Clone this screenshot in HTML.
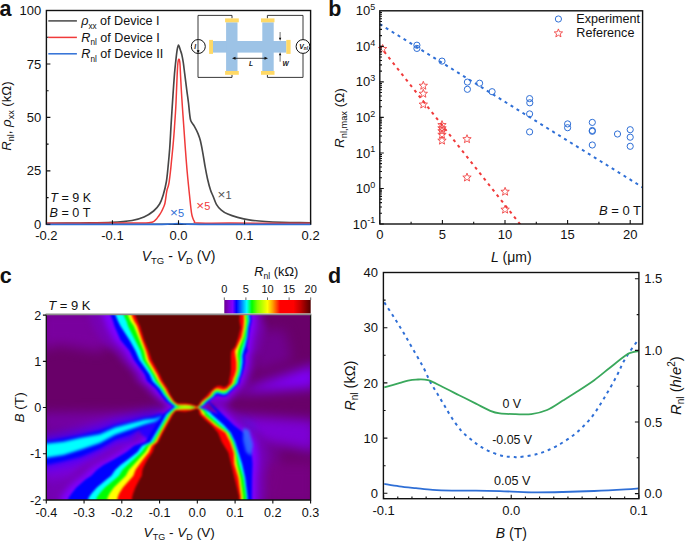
<!DOCTYPE html>
<html><head><meta charset="utf-8"><title>figure</title><style>
html,body{margin:0;padding:0;background:#fff;}
svg{display:block;font-family:"Liberation Sans",sans-serif;}
</style></head><body>
<svg width="685" height="542" viewBox="0 0 685 542" fill="#111">
<text x="-0.6" y="15.8" font-size="21.5" font-weight="bold">a</text>
<text x="328.3" y="15.6" font-size="21.5" font-weight="bold">b</text>
<text x="-0.3" y="283.3" font-size="21.5" font-weight="bold">c</text>
<text x="327.9" y="282.9" font-size="21.5" font-weight="bold">d</text>
<g>
<path d="M232 18.4 V15.4 H198 V77.4 H232 V74.8 M267.4 18.4 V15.4 H303 V77.4 H267.4 V74.8" fill="none" stroke="#222" stroke-width="0.9"/>
<rect x="213" y="41" width="73.4" height="11.6" fill="#9dc3e6"/>
<rect x="226.1" y="22.3" width="11.4" height="48.7" fill="#9dc3e6"/>
<rect x="262.3" y="22.3" width="11.4" height="48.7" fill="#9dc3e6"/>
<rect x="225.1" y="18.4" width="13.7" height="3.9" fill="#ffd966"/>
<rect x="225.1" y="71" width="13.7" height="3.8" fill="#ffd966"/>
<rect x="261" y="18.4" width="13.5" height="3.9" fill="#ffd966"/>
<rect x="261" y="71" width="13.5" height="3.8" fill="#ffd966"/>
<rect x="209.1" y="39.9" width="3.9" height="14" fill="#ffd966"/>
<rect x="286.3" y="39.9" width="4.3" height="14" fill="#ffd966"/>
<circle cx="198.3" cy="46.5" r="7" fill="none" stroke="#111" stroke-width="1"/>
<circle cx="303" cy="46.5" r="6.9" fill="#fff" stroke="#111" stroke-width="1"/>
<text x="194.3" y="48.6" font-size="6.5" font-style="italic" font-weight="bold">I</text>
<path d="M197.2 50.6 L198.2 52.4 L199.2 50.6 Z" fill="#000" stroke="#000" stroke-width="0.6"/>
<text x="299.3" y="49" font-size="6.8" font-style="italic" font-weight="bold">V<tspan font-size="4.6" dy="0.7">nl</tspan></text>
<path d="M234 58.3 H266" stroke="#111" stroke-width="0.8"/>
<path d="M232 58.3 L235.5 56.8 L235.5 59.8 Z M268 58.3 L264.5 56.8 L264.5 59.8 Z" fill="#111"/>
<text x="249" y="66.3" font-size="6.6" font-style="italic" font-weight="bold">L</text>
<path d="M280.1 32 V39 M280.1 54 V61.7" stroke="#333" stroke-width="0.7"/>
<path d="M280.1 40.8 L278.9 37.8 L281.3 37.8 Z M280.1 52.2 L278.9 55.2 L281.3 55.2 Z" fill="#111"/>
<text x="282.6" y="66.3" font-size="6.6" font-style="italic" font-weight="bold">W</text>
</g>
<rect x="46.4" y="10.5" width="264.2" height="213.8" fill="none" stroke="#111" stroke-width="1.4"/>
<path d="M46.5 223.4 C52.08 223.33 69.08 223.17 80 223 C90.92 222.83 103.33 222.82 112 222.4 C120.67 221.98 126.67 221.4 132 220.5 C137.33 219.6 140.4 218.58 144 217 C147.6 215.42 151 213.17 153.6 211 C156.2 208.83 158 206.67 159.6 204 C161.2 201.33 162.08 198.67 163.2 195 C164.32 191.33 165.5 186.58 166.3 182 C167.1 177.42 167.43 173.08 168 167.5 C168.57 161.92 169.18 155.67 169.7 148.5 C170.22 141.33 170.68 131.42 171.1 124.5 C171.52 117.58 171.83 112.7 172.2 107 C172.57 101.3 172.92 95.85 173.3 90.3 C173.68 84.75 174.12 78.3 174.5 73.7 C174.88 69.1 175.17 66.62 175.6 62.7 C176.03 58.78 176.62 53.15 177.1 50.2 C177.58 47.25 177.95 45 178.5 45 C179.05 45 179.85 48.6 180.4 50.2 C180.95 51.8 181.32 52.52 181.8 54.6 C182.28 56.68 182.82 59.52 183.3 62.7 C183.78 65.88 184.12 69.1 184.7 73.7 C185.28 78.3 186.17 85.42 186.8 90.3 C187.43 95.18 188.03 99.13 188.5 103 C188.97 106.87 189.22 110.53 189.6 113.5 C189.98 116.47 190 118.65 190.8 120.8 C191.6 122.95 193.2 124.27 194.4 126.4 C195.6 128.53 197 131.2 198 133.6 C199 136 199.6 137.6 200.4 140.8 C201.2 144 202 148.4 202.8 152.8 C203.6 157.2 204.4 162.8 205.2 167.2 C206 171.6 206.72 175.4 207.6 179.2 C208.48 183 209.58 187.17 210.5 190 C211.42 192.83 212.12 193.82 213.1 196.2 C214.08 198.58 215.03 201.98 216.4 204.3 C217.77 206.62 219.4 208.47 221.3 210.1 C223.2 211.73 225.08 212.88 227.8 214.1 C230.52 215.32 234.07 216.43 237.6 217.4 C241.13 218.37 244.37 219.22 249 219.9 C253.63 220.58 259.93 221.1 265.4 221.5 C270.87 221.9 276.35 222.12 281.8 222.3 C287.25 222.48 293.4 222.52 298.1 222.6 C302.8 222.68 308.02 222.77 310 222.8" fill="none" stroke="#474747" stroke-width="1.65" stroke-linejoin="round"/>
<path d="M46.5 223.2 C55.42 223.18 84.42 223.13 100 223.1 C115.58 223.07 131.67 223.08 140 223 C148.33 222.92 147.73 222.83 150 222.6 C152.27 222.37 152.52 222.2 153.6 221.6 C154.68 221 155.7 219.87 156.5 219 C157.3 218.13 157.65 217.48 158.4 216.4 C159.15 215.32 160.2 213.9 161 212.5 C161.8 211.1 162.53 209.58 163.2 208 C163.87 206.42 164.4 205.8 165 203 C165.6 200.2 166.25 194.03 166.8 191.2 C167.35 188.37 167.9 187.6 168.3 186 C168.7 184.4 168.85 183.93 169.2 181.6 C169.55 179.27 170 175.6 170.4 172 C170.8 168.4 171.2 164 171.6 160 C172 156 172.4 152.33 172.8 148 C173.2 143.67 173.68 138 174 134 C174.32 130 174.45 127.67 174.7 124 C174.95 120.33 175.28 115.5 175.5 112 C175.72 108.5 175.73 108.92 176 103 C176.27 97.08 176.8 83 177.1 76.5 C177.4 70 177.52 66.88 177.8 64 C178.08 61.12 178.45 59.37 178.8 59.2 C179.15 59.03 179.6 60.12 179.9 63 C180.2 65.88 180.33 71.5 180.6 76.5 C180.87 81.5 181.17 87.47 181.5 93 C181.83 98.53 182.25 104.53 182.6 109.7 C182.95 114.87 183.15 117.62 183.6 124 C184.05 130.38 184.7 140 185.3 148 C185.9 156 186.48 164 187.2 172 C187.92 180 188.88 189.2 189.6 196 C190.32 202.8 190.93 209.05 191.5 212.8 C192.07 216.55 192.52 217.1 193 218.5 C193.48 219.9 193.57 220.43 194.4 221.2 C195.23 221.97 192.07 222.78 198 223.1 C203.93 223.42 211.33 223.08 230 223.1 C248.67 223.12 296.67 223.18 310 223.2" fill="none" stroke="#f03a3a" stroke-width="1.5" stroke-linejoin="round"/>
<path d="M46.5 224.4 C63.75 224.38 129.42 224.37 150 224.3 C170.58 224.23 165.33 224.12 170 224 C174.67 223.88 175.33 223.6 178 223.6 C180.67 223.6 182.33 223.88 186 224 C189.67 224.12 179.25 224.23 200 224.3 C220.75 224.37 292.08 224.38 310.5 224.4" fill="none" stroke="#2f6fd6" stroke-width="1.7"/>
<text x="41.2" y="228.9" font-size="13" text-anchor="end" >0</text>
<text x="41.2" y="175.45" font-size="13" text-anchor="end" >25</text>
<text x="41.2" y="122" font-size="13" text-anchor="end" >50</text>
<text x="41.2" y="68.55" font-size="13" text-anchor="end" >75</text>
<text x="41.2" y="15.1" font-size="13" text-anchor="end" >100</text>
<text x="46.4" y="239.7" font-size="13" text-anchor="middle" >-0.2</text>
<text x="112.45" y="239.7" font-size="13" text-anchor="middle" >-0.1</text>
<text x="178.5" y="239.7" font-size="13" text-anchor="middle" >0.0</text>
<text x="244.55" y="239.7" font-size="13" text-anchor="middle" >0.1</text>
<text x="310.6" y="239.7" font-size="13" text-anchor="middle" >0.2</text>
<path d="M46.4 224.3 h4 M46.4 170.85 h4 M46.4 117.4 h4 M46.4 63.95 h4 M46.4 10.5 h4 M46.4 197.58 h2.2 M46.4 144.12 h2.2 M46.4 90.68 h2.2 M46.4 37.22 h2.2 M46.4 224.3 v-4 M112.45 224.3 v-4 M178.5 224.3 v-4 M244.55 224.3 v-4 M310.6 224.3 v-4" stroke="#111" stroke-width="1.1" fill="none"/>
<path d="M48.3 20.9 H76.9" stroke="#474747" stroke-width="1.5"/>
<path d="M48.3 37.4 H76.9" stroke="#f03a3a" stroke-width="1.5"/>
<path d="M48.3 53.8 H76.9" stroke="#2f6fd6" stroke-width="1.5"/>
<text x="81.2" y="25.3" font-size="12.6"><tspan font-style="italic">ρ</tspan><tspan font-size="8.2" dy="3.3">xx</tspan><tspan dy="-3.3"> of Device I</tspan></text>
<text x="81.3" y="41.8" font-size="12.6"><tspan font-style="italic">R</tspan><tspan font-size="8.2" dy="3.3">nl</tspan><tspan dy="-3.3"> of Device I</tspan></text>
<text x="81.3" y="58.2" font-size="12.6"><tspan font-style="italic">R</tspan><tspan font-size="8.2" dy="3.3">nl</tspan><tspan dy="-3.3"> of Device II</tspan></text>
<text x="50.3" y="201.7" font-size="12.6" text-anchor="start" ><tspan font-style="italic">T</tspan> = 9 K</text>
<text x="49.6" y="217.4" font-size="12.6" text-anchor="start" ><tspan font-style="italic">B</tspan> = 0 T</text>
<text x="217.6" y="198.9" font-size="11" fill="#555"><tspan font-size="13.5">×</tspan>1</text>
<text x="196.3" y="210.3" font-size="11" fill="#f03a3a"><tspan font-size="13.5">×</tspan>5</text>
<text x="170.0" y="216.6" font-size="11" fill="#2f6fd6"><tspan font-size="13.5">×</tspan>5</text>
<text x="178.6" y="261.2" font-size="14" text-anchor="middle"><tspan font-style="italic">V</tspan><tspan font-size="9.5" dy="3">TG</tspan><tspan dy="-3"> - </tspan><tspan font-style="italic">V</tspan><tspan font-size="9.5" dy="3">D</tspan><tspan dy="-3"> (V)</tspan></text>
<text transform="translate(11.3 116.1) rotate(-90)" font-size="13.2" text-anchor="middle"><tspan font-style="italic">R</tspan><tspan font-size="9" dy="3">nl</tspan><tspan dy="-3">, </tspan><tspan font-style="italic">ρ</tspan><tspan font-size="9" dy="3">xx</tspan><tspan dy="-3"> (kΩ)</tspan></text>
<clipPath id="clipb"><rect x="379.8" y="10.8" width="262.8" height="213.2"/></clipPath>
<g clip-path="url(#clipb)">
<path d="M379.8 24.1 L642.6 187.3" stroke="#2f6fd6" stroke-width="2" stroke-dasharray="3 4" fill="none"/>
<path d="M379.8 46.1 L525 230.5" stroke="#f03a3a" stroke-width="2" stroke-dasharray="3 4" stroke-dashoffset="0" fill="none"/>
</g>
<circle cx="416.9" cy="45.2" r="3.1" fill="none" stroke="#2f6fd6" stroke-width="1"/>
<circle cx="416.9" cy="48.4" r="3.1" fill="none" stroke="#2f6fd6" stroke-width="1"/>
<circle cx="442" cy="61.1" r="3.1" fill="none" stroke="#2f6fd6" stroke-width="1"/>
<circle cx="467.4" cy="82.1" r="3.1" fill="none" stroke="#2f6fd6" stroke-width="1"/>
<circle cx="467.4" cy="89.3" r="3.1" fill="none" stroke="#2f6fd6" stroke-width="1"/>
<circle cx="479.6" cy="83.2" r="3.1" fill="none" stroke="#2f6fd6" stroke-width="1"/>
<circle cx="492.1" cy="91.7" r="3.1" fill="none" stroke="#2f6fd6" stroke-width="1"/>
<circle cx="529.6" cy="98.6" r="3.1" fill="none" stroke="#2f6fd6" stroke-width="1"/>
<circle cx="529.8" cy="102.8" r="3.1" fill="none" stroke="#2f6fd6" stroke-width="1"/>
<circle cx="529.6" cy="113.9" r="3.1" fill="none" stroke="#2f6fd6" stroke-width="1"/>
<circle cx="529.6" cy="131.9" r="3.1" fill="none" stroke="#2f6fd6" stroke-width="1"/>
<circle cx="567.6" cy="123.9" r="3.1" fill="none" stroke="#2f6fd6" stroke-width="1"/>
<circle cx="567.6" cy="127.7" r="3.1" fill="none" stroke="#2f6fd6" stroke-width="1"/>
<circle cx="592.3" cy="122.4" r="3.1" fill="none" stroke="#2f6fd6" stroke-width="1"/>
<circle cx="592.3" cy="130.5" r="3.1" fill="none" stroke="#2f6fd6" stroke-width="1"/>
<circle cx="592.3" cy="131.3" r="3.1" fill="none" stroke="#2f6fd6" stroke-width="1"/>
<circle cx="592.3" cy="145" r="3.1" fill="none" stroke="#2f6fd6" stroke-width="1"/>
<circle cx="617.5" cy="134" r="3.1" fill="none" stroke="#2f6fd6" stroke-width="1"/>
<circle cx="630.2" cy="129.7" r="3.1" fill="none" stroke="#2f6fd6" stroke-width="1"/>
<circle cx="630.2" cy="137.2" r="3.1" fill="none" stroke="#2f6fd6" stroke-width="1"/>
<circle cx="630.2" cy="146.3" r="3.1" fill="none" stroke="#2f6fd6" stroke-width="1"/>
<polygon points="382.6,44.5 383.72,47.36 386.78,47.54 384.41,49.49 385.19,52.46 382.6,50.8 380.01,52.46 380.79,49.49 378.42,47.54 381.48,47.36" fill="none" stroke="#f03a3a" stroke-width="0.85" stroke-linejoin="miter"/>
<polygon points="423.3,81.3 424.42,84.16 427.48,84.34 425.11,86.29 425.89,89.26 423.3,87.6 420.71,89.26 421.49,86.29 419.12,84.34 422.18,84.16" fill="none" stroke="#f03a3a" stroke-width="0.85" stroke-linejoin="miter"/>
<polygon points="423.3,89.3 424.42,92.16 427.48,92.34 425.11,94.29 425.89,97.26 423.3,95.6 420.71,97.26 421.49,94.29 419.12,92.34 422.18,92.16" fill="none" stroke="#f03a3a" stroke-width="0.85" stroke-linejoin="miter"/>
<polygon points="423.3,100.1 424.42,102.96 427.48,103.14 425.11,105.09 425.89,108.06 423.3,106.4 420.71,108.06 421.49,105.09 419.12,103.14 422.18,102.96" fill="none" stroke="#f03a3a" stroke-width="0.85" stroke-linejoin="miter"/>
<polygon points="442,120.6 443.12,123.46 446.18,123.64 443.81,125.59 444.59,128.56 442,126.9 439.41,128.56 440.19,125.59 437.82,123.64 440.88,123.46" fill="none" stroke="#f03a3a" stroke-width="0.85" stroke-linejoin="miter"/>
<polygon points="442,123.8 443.12,126.66 446.18,126.84 443.81,128.79 444.59,131.76 442,130.1 439.41,131.76 440.19,128.79 437.82,126.84 440.88,126.66" fill="none" stroke="#f03a3a" stroke-width="0.85" stroke-linejoin="miter"/>
<polygon points="442,126.7 443.12,129.56 446.18,129.74 443.81,131.69 444.59,134.66 442,133 439.41,134.66 440.19,131.69 437.82,129.74 440.88,129.56" fill="none" stroke="#f03a3a" stroke-width="0.85" stroke-linejoin="miter"/>
<polygon points="442,130.3 443.12,133.16 446.18,133.34 443.81,135.29 444.59,138.26 442,136.6 439.41,138.26 440.19,135.29 437.82,133.34 440.88,133.16" fill="none" stroke="#f03a3a" stroke-width="0.85" stroke-linejoin="miter"/>
<polygon points="442,136.2 443.12,139.06 446.18,139.24 443.81,141.19 444.59,144.16 442,142.5 439.41,144.16 440.19,141.19 437.82,139.24 440.88,139.06" fill="none" stroke="#f03a3a" stroke-width="0.85" stroke-linejoin="miter"/>
<polygon points="467,134.7 468.12,137.56 471.18,137.74 468.81,139.69 469.59,142.66 467,141 464.41,142.66 465.19,139.69 462.82,137.74 465.88,137.56" fill="none" stroke="#f03a3a" stroke-width="0.85" stroke-linejoin="miter"/>
<polygon points="467,173.1 468.12,175.96 471.18,176.14 468.81,178.09 469.59,181.06 467,179.4 464.41,181.06 465.19,178.09 462.82,176.14 465.88,175.96" fill="none" stroke="#f03a3a" stroke-width="0.85" stroke-linejoin="miter"/>
<polygon points="505.1,187.3 506.22,190.16 509.28,190.34 506.91,192.29 507.69,195.26 505.1,193.6 502.51,195.26 503.29,192.29 500.92,190.34 503.98,190.16" fill="none" stroke="#f03a3a" stroke-width="0.85" stroke-linejoin="miter"/>
<polygon points="505.1,205.2 506.22,208.06 509.28,208.24 506.91,210.19 507.69,213.16 505.1,211.5 502.51,213.16 503.29,210.19 500.92,208.24 503.98,208.06" fill="none" stroke="#f03a3a" stroke-width="0.85" stroke-linejoin="miter"/>
<rect x="379.8" y="10.8" width="262.8" height="213.2" fill="none" stroke="#111" stroke-width="1.4"/>
<text x="379.8" y="238.8" font-size="13" text-anchor="middle" >0</text>
<text x="442.4" y="238.8" font-size="13" text-anchor="middle" >5</text>
<text x="505" y="238.8" font-size="13" text-anchor="middle" >10</text>
<text x="567.6" y="238.8" font-size="13" text-anchor="middle" >15</text>
<text x="630.2" y="238.8" font-size="13" text-anchor="middle" >20</text>
<text x="375.2" y="228.6" font-size="13" text-anchor="end" >10<tspan font-size="9" dy="-5.3">-1</tspan></text>
<text x="375.2" y="193.07" font-size="13" text-anchor="end" >10<tspan font-size="9" dy="-5.3">0</tspan></text>
<text x="375.2" y="157.53" font-size="13" text-anchor="end" >10<tspan font-size="9" dy="-5.3">1</tspan></text>
<text x="375.2" y="122" font-size="13" text-anchor="end" >10<tspan font-size="9" dy="-5.3">2</tspan></text>
<text x="375.2" y="86.47" font-size="13" text-anchor="end" >10<tspan font-size="9" dy="-5.3">3</tspan></text>
<text x="375.2" y="50.93" font-size="13" text-anchor="end" >10<tspan font-size="9" dy="-5.3">4</tspan></text>
<text x="375.2" y="15.4" font-size="13" text-anchor="end" >10<tspan font-size="9" dy="-5.3">5</tspan></text>
<path d="M379.8 224.0 v-4 M442.4 224.0 v-4 M505 224.0 v-4 M567.6 224.0 v-4 M630.2 224.0 v-4 M411.1 224.0 v-2.2 M473.7 224.0 v-2.2 M536.3 224.0 v-2.2 M598.9 224.0 v-2.2 M379.8 224 h4 M379.8 213.3 h2.2 M379.8 207.05 h2.2 M379.8 202.61 h2.2 M379.8 199.16 h2.2 M379.8 196.35 h2.2 M379.8 193.97 h2.2 M379.8 191.91 h2.2 M379.8 190.09 h2.2 M379.8 188.47 h4 M379.8 177.77 h2.2 M379.8 171.51 h2.2 M379.8 167.07 h2.2 M379.8 163.63 h2.2 M379.8 160.82 h2.2 M379.8 158.44 h2.2 M379.8 156.38 h2.2 M379.8 154.56 h2.2 M379.8 152.93 h4 M379.8 142.24 h2.2 M379.8 135.98 h2.2 M379.8 131.54 h2.2 M379.8 128.1 h2.2 M379.8 125.28 h2.2 M379.8 122.9 h2.2 M379.8 120.84 h2.2 M379.8 119.03 h2.2 M379.8 117.4 h4 M379.8 106.7 h2.2 M379.8 100.45 h2.2 M379.8 96.01 h2.2 M379.8 92.56 h2.2 M379.8 89.75 h2.2 M379.8 87.37 h2.2 M379.8 85.31 h2.2 M379.8 83.49 h2.2 M379.8 81.87 h4 M379.8 71.17 h2.2 M379.8 64.91 h2.2 M379.8 60.47 h2.2 M379.8 57.03 h2.2 M379.8 54.22 h2.2 M379.8 51.84 h2.2 M379.8 49.78 h2.2 M379.8 47.96 h2.2 M379.8 46.33 h4 M379.8 35.64 h2.2 M379.8 29.38 h2.2 M379.8 24.94 h2.2 M379.8 21.5 h2.2 M379.8 18.68 h2.2 M379.8 16.3 h2.2 M379.8 14.24 h2.2 M379.8 12.43 h2.2" stroke="#111" stroke-width="1.1" fill="none"/>
<circle cx="558.4" cy="19" r="3.1" fill="none" stroke="#2f6fd6" stroke-width="1"/>
<polygon points="558.4,28.9 559.52,31.76 562.58,31.94 560.21,33.89 560.99,36.86 558.4,35.2 555.81,36.86 556.59,33.89 554.22,31.94 557.28,31.76" fill="none" stroke="#f03a3a" stroke-width="0.85" stroke-linejoin="miter"/>
<text x="576.3" y="23.1" font-size="12.6">Experiment</text>
<text x="576.3" y="37.3" font-size="12.6">Reference</text>
<text x="599" y="214.8" font-size="13" text-anchor="start" ><tspan font-style="italic">B</tspan> = 0 T</text>
<text x="511.3" y="262.3" font-size="14" text-anchor="middle"><tspan font-style="italic">L</tspan> (μm)</text>
<text transform="translate(344.3 118.1) rotate(-90)" font-size="13.5" text-anchor="middle"><tspan font-style="italic">R</tspan><tspan font-size="9.2" dy="2.6">nl,max</tspan><tspan dy="-2.6"> (Ω)</tspan></text>
<defs><clipPath id="clipc"><rect x="46.3" y="315.1" width="264.3" height="184.9"/></clipPath>
<filter id="bl1" color-interpolation-filters="sRGB" x="-10%" y="-10%" width="120%" height="120%"><feGaussianBlur stdDeviation="0.85"/></filter>
<filter id="bl15" color-interpolation-filters="sRGB" x="-10%" y="-10%" width="120%" height="120%"><feGaussianBlur stdDeviation="1.1"/></filter>
<filter id="bl3" color-interpolation-filters="sRGB" x="-10%" y="-10%" width="120%" height="120%"><feGaussianBlur stdDeviation="3"/></filter>
<filter id="bl6" color-interpolation-filters="sRGB" x="-20%" y="-20%" width="140%" height="140%"><feGaussianBlur stdDeviation="6"/></filter>
</defs>
<g clip-path="url(#clipc)">
<rect x="41.3" y="310.1" width="274.3" height="194.9" fill="#690069"/>
<g filter="url(#bl6)">

<path d="M40,310 L118,310 L122,330 L100,352 L60,345 L40,350Z" fill="#7c00a8" fill-opacity="0.85"/>
<path d="M95,310 L118,310 L128,345 L112,345Z" fill="#7a00f0" fill-opacity="0.7"/>
<path d="M40,413 L150,411 L150,422 L40,430Z" fill="#7800b8" fill-opacity="0.8"/>
<path d="M40,455 L150,430 L140,470 L110,505 L40,505Z" fill="#7c00e0" fill-opacity="0.9"/>
<path d="M40,480 L70,480 L70,505 L40,505Z" fill="#7000a0" fill-opacity="0.6"/>
<path d="M228,394 L316,364 L316,388 Z" fill="#8000ff" fill-opacity="0.95"/>
<path d="M250,330 L285,330 L292,360 L255,372Z" fill="#7400a0" fill-opacity="0.7"/>
<path d="M225,414 L316,420 L316,452 L250,440Z" fill="#8000e8" fill-opacity="0.85"/>
<path d="M250,445 L280,450 L270,500 L250,500Z" fill="#7800c0" fill-opacity="0.6"/>
<path d="M262,462 L316,462 L316,506 L262,506Z" fill="#780084" fill-opacity="0.9"/>

<path d="M38,435.5 47.8,434.9 63.5,432.3 81,429.1 100,424.6 115,418.9 130,415.6 145,411.4 155,410.1 163,407.3 163,423.7 155,428.9 145,432.2 130,440.4 115,445.6 100,454.2 81,462.4 63.5,467 47.8,470.6 38,471.5Z" fill="#8000ff" fill-opacity="0.9"/><path d="M38,439 47.8,438.4 63.5,435.8 81,432.6 100,428.1 115,422.4 130,419.1 145,414.9 155,413.6 163,410.8 163,420.2 155,425.4 145,428.7 130,436.9 115,442.1 100,450.7 81,458.9 63.5,463.5 47.8,467.1 38,468Z" fill="#3000ff" fill-opacity="0.9"/><path d="M120,440 L150,428 L160,425 L158,445 L140,452Z" fill="#5000ff" fill-opacity="0.8"/><path d="M236,420 L250,425 L256,450 L252,470 L244,470Z" fill="#2030ff" fill-opacity="0.8"/>
</g>
<g filter="url(#bl3)">
<path d="M88.3,305 88.5,315 91,321 92.5,326 101.5,340 113.6,350.9 121,360 133.7,374.4 136,381 145.9,388.8 150.6,395 159,401.6 177.5,412.9 186,413 190.5,413 194.5,410.9 197,409.9 207.3,405 211,402.1 216,398.9 224,396.3 226.4,393.1 211.5,407.2 214.7,404.2 217.3,403.3 220.6,404 223.1,405.5 226.4,406.1 249.3,383.4 250.5,378.2 252,375 253.7,369.2 255.1,362 255,355.5 259.5,351 259.9,346.3 262.6,337.1 266,327.8 263.6,321 263.1,316.8 263.1,305Z" fill="#7600b4" fill-opacity="0.85"/>
<path d="M48.4,510 48.4,498 51.6,493.4 56.4,487.5 65.5,479.5 71.3,475.8 76.7,470 83.5,465 94,459.5 106.5,452 118.1,445.8 129.4,441.9 137.9,432.7 143.4,423.5 153,414.2 175.5,401.2 178,401.6 185,401.4 190.5,401.7 194.5,403.8 197,405 208.9,409.6 223.3,414.2 204.2,383.7 248.9,425.3 260.6,432.7 266,441.9 268.5,452.8 267.5,463.9 265.1,477.7 264.9,496.2 265.1,510Z" fill="#7600b4" fill-opacity="0.85"/>
<path d="M102.3,305 102.5,315 105,321 106.5,326 113.5,340 123.6,350.9 129,360 140.7,374.4 143,381 151.9,388.8 156.6,395 163,401.6 177.5,411.4 186,411.5 190.5,411.5 194.5,409.9 197,409.4 206.3,405 209.5,402.1 214,398.9 219,396.3 221.4,393.1 211.5,402.2 214.7,399.2 217.3,398.3 220.6,399 223.1,399.5 226.4,400.1 243.3,383.4 244.5,378.2 246,375 247.7,369.2 249.1,362 249,355.5 251.5,351 251.9,346.3 253.6,337.1 256,327.8 256.6,321 256.1,316.8 256.1,305Z" fill="#8000ff" fill-opacity="1"/>
<path d="M60.4,510 60.4,498 63.6,493.4 68.4,487.5 77.5,479.5 83.3,475.8 88.7,470 95.5,465 106,459.5 118.5,452 128.1,445.8 139.4,441.9 145.9,432.7 151.4,423.5 159,414.2 175.5,403.2 178,403.1 185,402.9 190.5,403.2 194.5,404.8 197,405.5 207.9,409.6 220.3,414.2 204.2,391.7 239.9,425.3 250.6,432.7 256,441.9 258.5,452.8 258.5,463.9 257.1,477.7 256.9,496.2 257.1,510Z" fill="#8000ff" fill-opacity="1"/>
</g>
<g filter="url(#bl1)">
<g filter="url(#bl15)"><path d="M136,421 L160,413 L168,420 L162,437 L150,441 L140,433Z" fill="#2800ff"/><path d="M38,441.5 47.8,440.9 63.5,438.3 81,435.1 100,430.6 115,424.9 130,421.6 145,417.4 155,416.1 163,413.3 163,417.7 155,422.9 145,426.2 130,434.4 115,439.6 100,448.2 81,456.4 63.5,461 47.8,464.6 38,465.5Z" fill="#0000ff"/><path d="M38,444 47.8,443.5 63.5,441.8 81,437.8 100,434.2 115,427.5 130,423.6 145,419.8 155,418.8 163,416.1 163,416.9 155,421.6 145,424.2 130,429.6 115,434.8 100,443 81,449.4 63.5,455 47.8,457.6 38,458.4Z" fill="#00ffff"/></g>
<path d="M110.3,305 110.5,315 113,321 114.5,326 120.5,340 129.6,350.9 134,360 144.7,374.4 147,381 155.9,388.8 160.6,395 166,401.6 177.5,409.9 186,410 190.5,410 194.5,408.9 197,408.9 205.3,405 208,402.1 212,398.9 216,396.3 218.4,393.1 211.5,399.2 214.7,396.2 217.3,395.3 220.6,396 223.1,396.5 226.4,396.1 239.3,383.4 240.5,378.2 242,375 243.7,369.2 245.1,362 245,355.5 247.5,351 246.9,346.3 248.6,337.1 250,327.8 251.6,321 251.1,316.8 251.1,305Z" fill="#0000ff"/>
<path d="M68.4,510 68.4,498 71.6,493.4 76.4,487.5 85.5,479.5 91.3,475.8 96.7,470 103.5,465 114,459.5 126.5,452 134.1,445.8 145.4,441.9 150.9,432.7 156.4,423.5 163,414.2 175.5,404.7 178,404.6 185,404.4 190.5,404.7 194.5,405.8 197,406 206.9,409.6 218.3,414.2 204.2,396.7 233.9,425.3 243.6,432.7 249,441.9 251.5,452.8 252.5,463.9 252.1,477.7 251.9,496.2 252.1,510Z" fill="#0000ff"/>
<path d="M115.3,305 115.5,315 118,321 120.5,326 129.5,340 135.6,350.9 139.5,360 149.7,374.4 152.5,381 159.9,388.8 163.8,395 169,401.6 177.5,408.4 186,408.5 190.5,408.5 194.5,407.9 197,408.4 203.7,405 206.2,402.1 210,398.9 213.8,396.3 216.2,393.1 211.5,397 214.7,394 217.3,393.1 220.6,393.8 223.1,394.5 226.4,394.1 237.4,383.4 238.7,378.2 240.1,375 241.5,369.2 242.5,362 242.3,355.5 243.5,351 245.1,346.3 247.2,337.1 248.1,327.8 249.6,321 249.3,316.8 249.3,305Z" fill="#00ffff"/>
<path d="M88.4,510 88.4,498 91.6,493.4 96.9,487.5 106.5,479.5 111.3,475.8 115.2,470 120.5,465 128,459.5 137.5,452 142.1,445.8 150.4,441.9 155.9,432.7 161.4,423.5 166.5,414.2 175.5,406.2 178,406.1 185,405.9 190.5,406.2 194.5,406.8 197,406.5 204.7,409.6 212.3,414.2 204.2,407.7 223.9,425.3 230.6,432.7 235,441.9 238.5,452.8 242,463.9 245.1,477.7 247.4,496.2 247.6,510Z" fill="#00ffff"/>
<path d="M123.3,305 123.5,315 126.5,321 128,326 135,340 140.6,350.9 143,360 152.5,374.4 155.5,381 161.7,388.8 165.6,395 170.7,401.6 177.5,407.1 186,407.2 190.5,407.2 194.5,407.4 197,408.1 202.4,405 204.7,402.1 208.5,398.9 212.3,396.3 214.7,393.1 211.5,395.5 214.7,392.5 217.3,391.6 220.6,392.3 223.1,393 226.4,392.5 235.7,383.4 237,378.2 238.3,375 239.7,369.2 240.3,362 240.5,355.5 241.3,351 242.8,346.3 245.8,337.1 246.8,327.8 248.1,321 247.4,316.8 247.4,305Z" fill="#00ff00"/>
<path d="M96.4,510 96.4,498 99.6,493.4 104.9,487.5 114.5,479.5 118.8,475.8 122.4,470 127.5,465 133.5,459.5 141.5,452 146.1,445.8 152.9,441.9 158,432.7 163.2,423.5 168.7,414.2 175.5,407.7 178,407.4 185,407.2 190.5,407.5 194.5,407.3 197,406.8 203.1,409.6 209.7,414.2 204.2,410.9 220.1,425.3 229.1,432.7 233.4,441.9 236.7,452.8 239.3,463.9 243.4,477.7 246,496.2 246.2,510Z" fill="#00ff00"/>
<path d="M127.8,305 128,315 130.5,321 134,326 139.5,340 144,350.9 146,360 154.7,374.4 158,381 163.5,388.8 167.2,395 171.9,401.6 177.5,405.8 186,405.9 190.5,406.2 194.5,407 197,407.8 201.2,405 203.3,402.1 207,398.9 210.7,396.3 213.1,393.1 211.5,393.9 214.7,390.9 217.3,390 220.6,390.7 223.1,391.4 226.4,390.8 233.9,383.4 235.4,378.2 236.8,375 238.1,369.2 238.3,362 237.5,355.5 238,351 239.7,346.3 243.5,337.1 245.4,327.8 246.1,321 245.6,316.8 245.6,305Z" fill="#ffff00"/>
<path d="M107.4,510 107.4,498 109.6,493.4 113.9,487.5 122,479.5 125.8,475.8 128.9,470 133.5,465 138.5,459.5 145.5,452 149.1,445.8 154.7,441.9 159.8,432.7 164.9,423.5 170.3,414.2 175.5,408.9 178,408.6 185,408.4 190.5,408.5 194.5,407.7 197,407.1 201.5,409.6 205.2,414.2 204.2,414.5 217,425.3 227.5,432.7 231.9,441.9 235.3,452.8 236.7,463.9 240.3,477.7 242.8,496.2 243,510Z" fill="#ffff00"/>
<path d="M131.3,305 131.5,315 134,321 137,326 141.8,340 146,350.9 148.5,360 156.9,374.4 160,381 165.3,388.8 168.7,395 173.2,401.6 177.5,404.7 186,404.8 190.5,405.2 194.5,406.5 197,407.5 200,405 201.9,402.1 205.6,398.9 209.3,396.3 211.7,393.1 211.5,392.5 214.7,389.4 217.3,388.5 220.6,389.2 223.1,389.9 226.4,389.2 232.2,383.4 233.6,378.2 235,375 236.5,369.2 236.5,362 235.5,355.5 235,351 237.4,346.3 241.7,337.1 243.5,327.8 244.1,321 244,316.8 244,305Z" fill="#ff0000"/>
<path d="M117.4,510 117.4,498 119.1,493.4 122.9,487.5 130,479.5 133.3,475.8 135.4,470 139,465 143,459.5 149,452 151.6,445.8 156.5,441.9 161.1,432.7 166.2,423.5 171.5,414.2 175.5,410 178,409.7 185,409.5 190.5,409.5 194.5,408.2 197,407.4 200.1,409.6 202.2,414.2 204.2,415.7 214.7,425.3 225.6,432.7 230.3,441.9 233.9,452.8 234.4,463.9 238.5,477.7 240.9,496.2 241.1,510Z" fill="#ff0000"/>
<path d="M134.8,305 135,315 137.5,321 139.8,326 144,340 148.5,350.9 151.5,360 159.5,374.4 162.5,381 167.5,388.8 170.3,395 174.5,401.6 177.5,403.6 186,403.6 190.5,403.9 194.5,405.3 197,406.3 198.8,405 200.5,402.1 203.1,398.9 206.3,396.3 208.9,393.1 211.5,390.5 214.7,387.6 217.3,386 220.6,385.7 223.1,387.3 226.4,386.6 229,383.4 229.6,378.2 230.5,375 231,369.2 231,362 231,355.5 231.5,351 235.5,346.3 238.5,337.1 240.8,327.8 239.6,321 239.8,316.8 239.8,305Z" fill="#640505"/>
<path d="M131.9,510 131.9,498 133.1,493.4 135.4,487.5 139.5,479.5 141.8,475.8 142.4,470 144.5,465 147.5,459.5 152.5,452 154.6,445.8 158.3,441.9 162.9,432.7 168,423.5 173.1,414.2 175.5,411.2 178,411 185,411.8 190.5,410.8 194.5,409.4 197,408.6 198.8,409.6 199.6,414.2 204.2,418.9 211.6,425.3 218.1,432.7 221.8,441.9 228.5,452.8 231.2,463.9 234.5,477.7 239.1,496.2 239.3,510Z" fill="#640505"/>
<ellipse cx="185" cy="407.4" rx="6.5" ry="1.0" fill="#d0ff00"/>
<g filter="url(#bl15)"><path d="M243,428 L249,430 L253,445 L251,456 L246,452 L243,440Z" fill="#3070ff" fill-opacity="0.9"/></g>
</g>
</g>
<path d="M46.3 314.5 V500.0 H310.6 V314.5" fill="none" stroke="#111" stroke-width="1.3"/>
<path d="M45.65 314.3 H311.25" stroke="#8c8c8c" stroke-width="1.7"/>
<text x="46.3" y="516.8" font-size="12.6" text-anchor="middle" >-0.4</text>
<text x="84.06" y="516.8" font-size="12.6" text-anchor="middle" >-0.3</text>
<text x="121.81" y="516.8" font-size="12.6" text-anchor="middle" >-0.2</text>
<text x="159.57" y="516.8" font-size="12.6" text-anchor="middle" >-0.1</text>
<text x="197.33" y="516.8" font-size="12.6" text-anchor="middle" >0.0</text>
<text x="235.09" y="516.8" font-size="12.6" text-anchor="middle" >0.1</text>
<text x="272.84" y="516.8" font-size="12.6" text-anchor="middle" >0.2</text>
<text x="310.6" y="516.8" font-size="12.6" text-anchor="middle" >0.3</text>
<text x="41.3" y="504.5" font-size="12.6" text-anchor="end" >-2</text>
<text x="41.3" y="458.27" font-size="12.6" text-anchor="end" >-1</text>
<text x="41.3" y="412.05" font-size="12.6" text-anchor="end" >0</text>
<text x="41.3" y="365.83" font-size="12.6" text-anchor="end" >1</text>
<text x="41.3" y="319.6" font-size="12.6" text-anchor="end" >2</text>
<path d="M46.3 500.0 v3.6 M84.06 500.0 v3.6 M121.81 500.0 v3.6 M159.57 500.0 v3.6 M197.33 500.0 v3.6 M235.09 500.0 v3.6 M272.84 500.0 v3.6 M310.6 500.0 v3.6 M46.3 500 h-3.4 M46.3 453.77 h-3.4 M46.3 407.55 h-3.4 M46.3 361.33 h-3.4 M46.3 315.1 h-3.4" stroke="#111" stroke-width="1.1" fill="none"/>
<text x="48.2" y="310.2" font-size="13" text-anchor="start" ><tspan font-style="italic">T</tspan> = 9 K</text>
<text x="179.2" y="537.2" font-size="13.6" text-anchor="middle"><tspan font-style="italic">V</tspan><tspan font-size="9" dy="3">TG</tspan><tspan dy="-3"> - </tspan><tspan font-style="italic">V</tspan><tspan font-size="9" dy="3">D</tspan><tspan dy="-3"> (V)</tspan></text>
<text transform="translate(24.2 407.4) rotate(-90)" font-size="13.6" text-anchor="middle"><tspan font-style="italic">B</tspan> (T)</text>
<linearGradient id="cbg" x1="0" x2="1" y1="0" y2="0"><stop offset="0" stop-color="#6a0090"/><stop offset="0.05" stop-color="#8000d0"/><stop offset="0.097" stop-color="#8000ff"/><stop offset="0.14" stop-color="#0000ff"/><stop offset="0.214" stop-color="#00a0ff"/><stop offset="0.26" stop-color="#00ffff"/><stop offset="0.32" stop-color="#00ff00"/><stop offset="0.385" stop-color="#80ff00"/><stop offset="0.5" stop-color="#ffff00"/><stop offset="0.56" stop-color="#ffa000"/><stop offset="0.645" stop-color="#ff0000"/><stop offset="0.8" stop-color="#ff0000"/><stop offset="0.885" stop-color="#c00000"/><stop offset="0.95" stop-color="#800000"/><stop offset="1" stop-color="#500000"/></linearGradient>
<rect x="224.3" y="300" width="86.4" height="13.3" fill="url(#cbg)"/>
<text x="224.3" y="292.5" font-size="11" text-anchor="middle">0</text>
<text x="245.9" y="292.5" font-size="11" text-anchor="middle">5</text>
<text x="267.5" y="292.5" font-size="11" text-anchor="middle">10</text>
<text x="289.1" y="292.5" font-size="11" text-anchor="middle">15</text>
<text x="310.7" y="292.5" font-size="11" text-anchor="middle">20</text>
<path d="M224.3 300 v-2.6 M245.9 300 v-2.6 M267.5 300 v-2.6 M289.1 300 v-2.6 M310.7 300 v-2.6" stroke="#555" stroke-width="0.9"/>
<text x="254.3" y="275.9" font-size="12.8"><tspan font-style="italic">R</tspan><tspan font-size="8.6" dy="3">nl</tspan><tspan dy="-3"> (kΩ)</tspan></text>
<clipPath id="clipd"><rect x="383.4" y="272.5" width="255.5" height="226.2"/></clipPath>
<g clip-path="url(#clipd)">
<path d="M384.3 302.4 C385.98 305 391.12 312.82 394.4 318 C397.68 323.18 400.8 328.12 404 333.5 C407.2 338.88 410.4 344.7 413.6 350.3 C416.8 355.9 420.42 361.82 423.2 367.1 C425.98 372.38 427.92 377.52 430.3 382 C432.68 386.48 435.1 390 437.5 394 C439.9 398 442.3 402 444.7 406 C447.1 410 449.1 413.82 451.9 418 C454.7 422.18 458.3 427.52 461.5 431.1 C464.7 434.68 467.9 436.9 471.1 439.5 C474.3 442.1 477.1 444.5 480.7 446.7 C484.3 448.9 488.7 451.1 492.7 452.7 C496.7 454.3 501.1 455.58 504.7 456.3 C508.3 457.02 511.95 456.87 514.3 457 C516.65 457.13 514.9 457.6 518.8 457.1 C522.7 456.6 531.42 455.83 537.7 454 C543.98 452.17 550.23 449.5 556.5 446.1 C562.77 442.7 569.55 438.3 575.3 433.6 C581.05 428.9 586.28 423.67 591 417.9 C595.72 412.13 599.42 405.8 603.6 399 C607.78 392.2 612.45 383.9 616.1 377.1 C619.75 370.3 621.77 364.48 625.5 358.2 C629.23 351.92 636.33 342.53 638.5 339.4" fill="none" stroke="#2f6fd6" stroke-width="2" stroke-dasharray="3 4"/>
<path d="M384.3 387.3 C386.78 386.62 395.25 384.32 399.2 383.2 C403.15 382.08 405.2 381.2 408 380.6 C410.8 380 412.67 379.67 416 379.6 C419.33 379.53 423.62 379 428 380.2 C432.38 381.4 437.12 384.3 442.3 386.8 C447.48 389.3 453.5 392.4 459.1 395.2 C464.7 398 470.7 401 475.9 403.6 C481.1 406.2 486.3 409.17 490.3 410.8 C494.3 412.43 495.67 412.83 499.9 413.4 C504.13 413.97 510.45 414.08 515.7 414.2 C520.95 414.32 526.17 414.8 531.4 414.1 C536.63 413.4 541.87 412.25 547.1 410 C552.33 407.75 558.1 403.47 562.8 400.6 C567.5 397.73 570.07 396.2 575.3 392.8 C580.53 389.4 588.43 384.38 594.2 380.2 C599.97 376.02 604.68 371.82 609.9 367.7 C615.12 363.58 621.82 358.05 625.5 355.5 C629.18 352.95 629.83 353.1 632 352.4 C634.17 351.7 637.42 351.48 638.5 351.3" fill="none" stroke="#3aa85c" stroke-width="1.8"/>
<path d="M384.3 483.9 C386.78 484.3 393.92 485.58 399.2 486.3 C404.48 487.02 410.42 487.6 416 488.2 C421.58 488.8 426.72 489.5 432.7 489.9 C438.68 490.3 444.7 490.48 451.9 490.6 C459.1 490.72 467.9 490.52 475.9 490.6 C483.9 490.68 490.65 490.82 499.9 491.1 C509.15 491.38 520.92 492.15 531.4 492.3 C541.88 492.45 552.33 492.22 562.8 492 C573.27 491.78 583.75 491.43 594.2 491 C604.65 490.57 618.12 489.83 625.5 489.4 C632.88 488.97 636.33 488.57 638.5 488.4" fill="none" stroke="#2f6fd6" stroke-width="1.8"/>
</g>
<rect x="383.4" y="272.5" width="255.5" height="226.2" fill="none" stroke="#111" stroke-width="1.4"/>
<text x="378" y="497.9" font-size="13" text-anchor="end" >0</text>
<text x="378" y="442.7" font-size="13" text-anchor="end" >10</text>
<text x="378" y="387.5" font-size="13" text-anchor="end" >20</text>
<text x="378" y="332.3" font-size="13" text-anchor="end" >30</text>
<text x="378" y="277.1" font-size="13" text-anchor="end" >40</text>
<text x="644.2" y="498.2" font-size="13" text-anchor="start" >0.0</text>
<text x="644.2" y="426.6" font-size="13" text-anchor="start" >0.5</text>
<text x="644.2" y="355" font-size="13" text-anchor="start" >1.0</text>
<text x="644.2" y="283.4" font-size="13" text-anchor="start" >1.5</text>
<text x="383.6" y="515" font-size="13" text-anchor="middle" >-0.1</text>
<text x="511.2" y="515" font-size="13" text-anchor="middle" >0.0</text>
<text x="638.8" y="515" font-size="13" text-anchor="middle" >0.1</text>
<path d="M383.4 493.3 h4 M383.4 438.1 h4 M383.4 382.9 h4 M383.4 327.7 h4 M383.4 272.5 h4 M383.4 465.7 h2.2 M383.4 410.5 h2.2 M383.4 355.3 h2.2 M383.4 300.1 h2.2 M638.9 493.6 h-4 M638.9 422 h-4 M638.9 350.4 h-4 M638.9 278.8 h-4 M638.9 457.8 h-2.2 M638.9 386.2 h-2.2 M638.9 314.6 h-2.2 M383.6 498.7 v-4 M397.78 498.7 v-2.2 M411.96 498.7 v-2.2 M426.14 498.7 v-2.2 M440.32 498.7 v-2.2 M454.5 498.7 v-2.2 M468.68 498.7 v-2.2 M482.86 498.7 v-2.2 M497.04 498.7 v-2.2 M511.22 498.7 v-4 M525.4 498.7 v-2.2 M539.58 498.7 v-2.2 M553.76 498.7 v-2.2 M567.94 498.7 v-2.2 M582.12 498.7 v-2.2 M596.3 498.7 v-2.2 M610.48 498.7 v-2.2 M624.66 498.7 v-2.2 M638.84 498.7 v-4" stroke="#111" stroke-width="1.1" fill="none"/>
<text x="502.5" y="408.1" font-size="12.4" text-anchor="start" >0 V</text>
<text x="492.2" y="444" font-size="12.4" text-anchor="start" >-0.05 V</text>
<text x="494" y="485.4" font-size="12.6" text-anchor="start" >0.05 V</text>
<text x="511.3" y="537.8" font-size="14" text-anchor="middle"><tspan font-style="italic">B</tspan> (T)</text>
<text transform="translate(354.5 385.7) rotate(-90)" font-size="14.6" text-anchor="middle"><tspan font-style="italic">R</tspan><tspan font-size="10" dy="3.2">nl</tspan><tspan dy="-3.2"> (kΩ)</tspan></text>
<text transform="translate(680.6 385.6) rotate(-90)" font-size="14.8" text-anchor="middle"><tspan font-style="italic">R</tspan><tspan font-size="10" dy="3.2">nl</tspan><tspan dy="-3.2"> (</tspan><tspan font-style="italic">h</tspan>/<tspan font-style="italic">e</tspan><tspan font-size="10" dy="-5.5">2</tspan><tspan dy="5.5">)</tspan></text>
</svg>
</body></html>
